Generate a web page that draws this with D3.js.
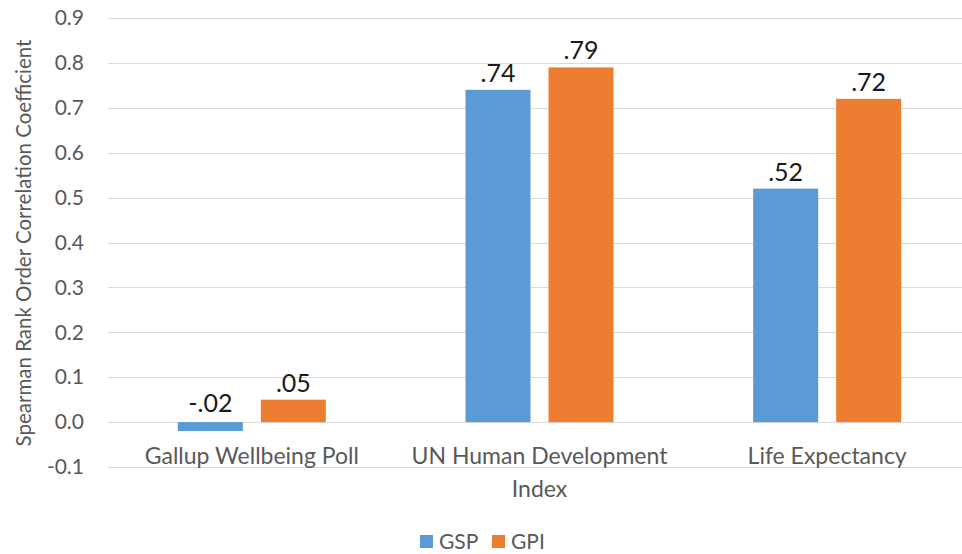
<!DOCTYPE html>
<html>
<head>
<meta charset="utf-8">
<script src="https://cdn.jsdelivr.net/npm/d3@7"></script>
<style>
  body { margin: 0; background: #fff; }
  text { font-family: Lato, "Open Sans", sans-serif; }
</style>
</head>
<body>
<div class="chart"></div>
<script>
var categories = ["Gallup Wellbeing Poll", "UN Human Development Index", "Life Expectancy"];
var seriesNames = ["GSP", "GPI"];
var gspValues = [-0.02, 0.74, 0.52];
var gpiValues = [0.05, 0.79, 0.72];
var valueLabels = [["-.02", ".74", ".52"], [".05", ".79", ".72"]];
var yTicks = [-0.1, 0, 0.1, 0.2, 0.3, 0.4, 0.5, 0.6, 0.7, 0.8, 0.9];
var colors = ["#5b9bd5", "#ed7d31"];

var svgWidth = 962;
var svgHeight = 554;

var svg = d3.select(".chart")
  .append("svg")
  .attr("width", svgWidth)
  .attr("height", svgHeight);

var yScale = d3.scaleLinear()
  .domain([-0.1, 0.9])
  .range([467, 18]);

var xScale = d3.scaleBand()
  .domain(categories)
  .range([108, 971]);

// two bars per group, 65px wide with 18px gap
var xInner = d3.scaleBand()
  .domain(seriesNames)
  .range([-74, 74])
  .paddingInner(18 / 83);

// gridlines
svg.append("g")
  .selectAll("line")
  .data(yTicks)
  .enter()
  .append("line")
  .attr("x1", 108)
  .attr("x2", 962)
  .attr("y1", d => Math.round(yScale(d)) + 0.5)
  .attr("y2", d => Math.round(yScale(d)) + 0.5)
  .attr("stroke", "#d9d9d9")
  .attr("stroke-width", 1.2);

// y axis labels (hyphen minus like Excel)
var leftAxis = d3.axisLeft(yScale)
  .tickValues(yTicks)
  .tickFormat(d => d3.format(".1f")(d).replace("\u2212", "-"))
  .tickSize(0)
  .tickPadding(0);

var yAxisG = svg.append("g")
  .attr("transform", "translate(84,0)")
  .call(leftAxis);
yAxisG.select(".domain").remove();
yAxisG.selectAll("text")
  .attr("fill", "#595959")
  .attr("font-size", 21)
  .attr("font-family", "Lato, sans-serif");

// bars
var rows = [];
categories.forEach(function(c, i) {
  rows.push({cat: c, s: "GSP", v: gspValues[i], lab: valueLabels[0][i], k: 0});
  rows.push({cat: c, s: "GPI", v: gpiValues[i], lab: valueLabels[1][i], k: 1});
});

var cx = c => xScale(c) + xScale.bandwidth() / 2;

svg.append("g")
  .selectAll("rect")
  .data(rows)
  .enter()
  .append("rect")
  .attr("x", d => cx(d.cat) + xInner(d.s))
  .attr("width", xInner.bandwidth())
  .attr("y", d => yScale(Math.max(d.v, 0)))
  .attr("height", d => Math.abs(yScale(d.v) - yScale(0)))
  .attr("fill", d => colors[d.k]);

// value labels
svg.append("g")
  .selectAll("text")
  .data(rows)
  .enter()
  .append("text")
  .attr("x", d => cx(d.cat) + xInner(d.s) + xInner.bandwidth() / 2)
  .attr("y", d => d.v < 0 ? yScale(0) - 10 : yScale(d.v) - 8)
  .attr("text-anchor", "middle")
  .attr("font-size", 25)
  .attr("fill", "#1a1a1a")
  .text(d => d.lab);

// category labels, wrapped like Excel
var catG = svg.append("g");
categories.forEach(function(c) {
  var words = c.split(" ");
  var lines = [];
  var line = [];
  var probe = catG.append("text").attr("font-size", 23);
  words.forEach(function(w) {
    line.push(w);
    probe.text(line.join(" "));
    if (probe.node().getComputedTextLength() > 280 && line.length > 1) {
      line.pop();
      lines.push(line.join(" "));
      line = [w];
    }
  });
  lines.push(line.join(" "));
  probe.remove();
  var t = catG.append("text")
    .attr("x", cx(c))
    .attr("y", 464)
    .attr("text-anchor", "middle")
    .attr("font-size", 23)
    .attr("fill", "#595959");
  lines.forEach(function(l, i) {
    t.append("tspan")
      .attr("x", cx(c))
      .attr("dy", i === 0 ? 0 : 33)
      .text(l);
  });
});

// y axis title
svg.append("text")
  .attr("transform", "translate(31,243) rotate(-90)")
  .attr("text-anchor", "middle")
  .attr("font-size", 20.5)
  .attr("fill", "#595959")
  .text("Spearman Rank Order Correlation Coefficient");

// legend
var legend = svg.append("g");
var legendX = [420, 492];
seriesNames.forEach(function(s, i) {
  legend.append("rect")
    .attr("x", legendX[i])
    .attr("y", 535)
    .attr("width", 13)
    .attr("height", 13)
    .attr("fill", colors[i]);
  legend.append("text")
    .attr("x", legendX[i] + 19)
    .attr("y", 549)
    .attr("font-size", 21)
    .attr("fill", "#595959")
    .text(s);
});
</script>
</body>
</html>
